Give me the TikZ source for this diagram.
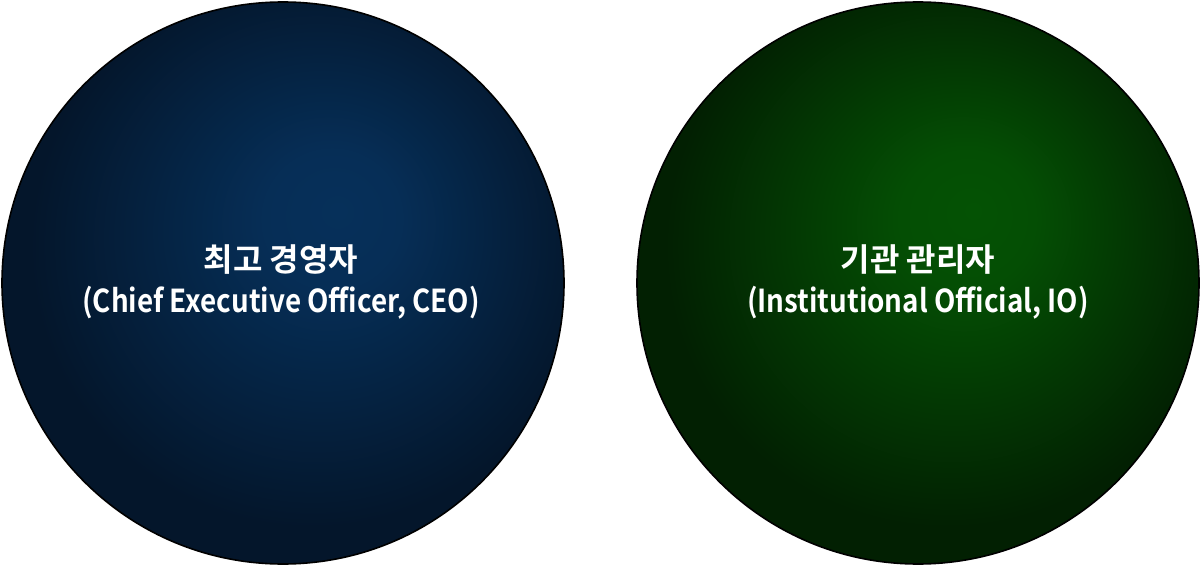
\documentclass[tikz,border=0pt]{standalone}
\usepackage{fontspec}
\newfontfamily\kfont{Noto Sans CJK KR Bold}
\newfontfamily\efont[FakeStretch=0.88]{Noto Sans CJK KR Bold}
\definecolor{blueIn}{HTML}{06305A}
\definecolor{blueOut}{HTML}{04162B}
\definecolor{greenIn}{HTML}{045204}
\definecolor{greenOut}{HTML}{022002}
\pgfdeclareradialshading{blueball}{\pgfpoint{5bp}{6.5bp}}{color(0bp)=(blueIn); color(6bp)=(blueIn!92!blueOut); color(25bp)=(blueOut); color(50bp)=(blueOut)}
\pgfdeclareradialshading{greenball}{\pgfpoint{5bp}{6.5bp}}{color(0bp)=(greenIn); color(6bp)=(greenIn!92!greenOut); color(25bp)=(greenOut); color(50bp)=(greenOut)}
\tikzset{
  ball/.style={circle, draw=black, line width=0.8pt, minimum size=281pt, inner sep=0pt},
  label text/.style={text=white, align=center, inner sep=0pt, font=\kfont\fontsize{16pt}{20.5pt}\selectfont}
}
\newcommand\kline[1]{{\kfont\fontsize{16pt}{20.5pt}\selectfont #1}}
\newcommand\eline[1]{{\efont\fontsize{15.8pt}{20.5pt}\selectfont #1}}
\begin{document}
\begin{tikzpicture}[x=0.5pt,y=-0.5pt]
\useasboundingbox (0,0) rectangle (1200,567);
\node[ball, shading=blueball] (ceo) at (283,283) {};
\node[ball, shading=greenball] (io) at (918,283) {};
\node[label text] (ceot) at (281,282) {\kline{최고 경영자}\\\eline{(Chief Executive Officer, CEO)}};
\node[label text] (iot) at (918,282) {\kline{기관 관리자}\\\eline{(Institutional Official, IO)}};
\end{tikzpicture}
\end{document}
